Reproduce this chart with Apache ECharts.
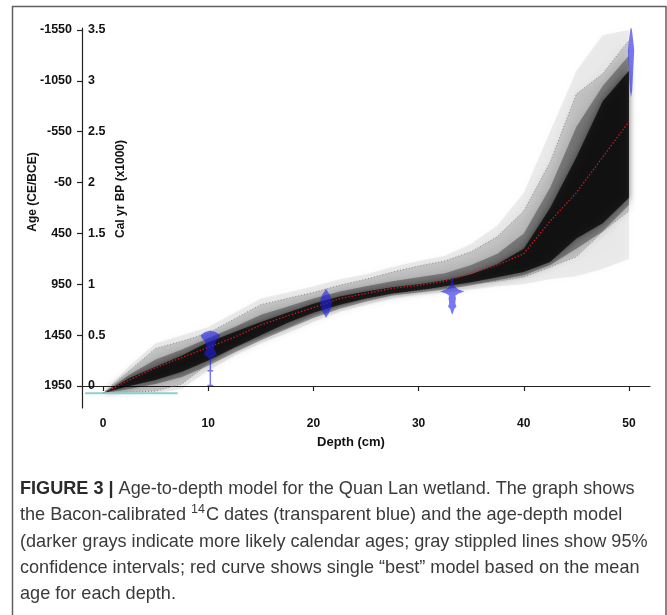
<!DOCTYPE html>
<html><head><meta charset="utf-8">
<script src="https://cdn.jsdelivr.net/npm/echarts@6/dist/echarts.min.js"></script>
<style>html,body{margin:0;padding:0;background:#fff}#c{width:667px;height:615px}</style>
</head><body><div id="c"></div>
<script>
// ---- tick labels ----
const depthTicks = [0, 10, 20, 30, 40, 50];
const bpTicks = [0, 0.5, 1, 1.5, 2, 2.5, 3, 3.5];   // cal yr BP (x1000)

// ---- age-depth model (ages in cal kyr BP) ----
const depths     = [0, 2.5, 5, 7.5, 10, 12.5, 15, 17.5, 20, 22.5, 25, 27.5, 30, 32.5, 35, 37.5, 40, 42.5, 45, 47.5, 50];
const ageMean    = [-0.07, 0.06, 0.18, 0.28, 0.38, 0.48, 0.60, 0.69, 0.77, 0.86, 0.91, 0.96, 0.99, 1.03, 1.11, 1.19, 1.30, 1.62, 1.90, 2.25, 2.60];
const ageUpper95 = [-0.07, 0.15, 0.37, 0.44, 0.52, 0.66, 0.80, 0.86, 0.92, 0.99, 1.05, 1.12, 1.18, 1.23, 1.32, 1.47, 1.72, 2.20, 2.87, 3.07, 3.40];
const ageLower95 = [-0.07, -0.06, -0.05, 0.02, 0.22, 0.37, 0.47, 0.57, 0.69, 0.78, 0.85, 0.90, 0.94, 0.96, 1.00, 1.03, 1.07, 1.17, 1.27, 1.52, 1.72];
const midLower   = [-0.07, -0.03, 0.02, 0.09, 0.20, 0.33, 0.45, 0.56, 0.67, 0.76, 0.83, 0.89, 0.92, 0.95, 0.99, 1.04, 1.09, 1.19, 1.35, 1.52, 1.78];
const midUpper   = [-0.07, 0.11, 0.26, 0.36, 0.47, 0.58, 0.70, 0.78, 0.86, 0.93, 0.98, 1.03, 1.07, 1.11, 1.19, 1.30, 1.50, 1.95, 2.55, 2.95, 3.25];
const coreLower  = [-0.07, 0.00, 0.06, 0.14, 0.25, 0.38, 0.50, 0.62, 0.72, 0.80, 0.86, 0.91, 0.94, 0.98, 1.02, 1.07, 1.12, 1.22, 1.45, 1.60, 1.85];
const coreUpper  = [-0.07, 0.08, 0.19, 0.30, 0.43, 0.53, 0.63, 0.72, 0.81, 0.88, 0.93, 0.97, 1.00, 1.04, 1.10, 1.20, 1.35, 1.75, 2.25, 2.80, 3.10];
const hazeLower  = [-0.07, -0.07, -0.07, -0.03, 0.15, 0.30, 0.42, 0.52, 0.63, 0.73, 0.80, 0.86, 0.90, 0.92, 0.95, 0.98, 1.00, 1.05, 1.08, 1.15, 1.25];
const hazeUpper  = [-0.07, 0.20, 0.42, 0.50, 0.58, 0.72, 0.86, 0.92, 0.98, 1.05, 1.10, 1.17, 1.23, 1.28, 1.40, 1.58, 1.90, 2.50, 3.10, 3.45, 3.50];

// ---- calibrated 14C dates (age profile, half-width in cm) ----
const dateDepths = [10.2, 21.2, 33.2, 50.2];
const date1Ages   = [0.545, 0.53, 0.50, 0.47, 0.44, 0.40, 0.36, 0.33, 0.31, 0.29, 0.27, 0.25, 0.16, 0.155, 0.145, 0.14, 0.015, 0.01, 0.0, 0.0];
const date1Widths = [0, 0.5, 0.95, 0.8, 0.5, 0.4, 0.35, 0.55, 0.6, 0.35, 0.1, 0.07, 0.07, 0.28, 0.28, 0.07, 0.07, 0.28, 0.28, 0];
const date2Ages   = [0.96, 0.93, 0.90, 0.86, 0.82, 0.78, 0.75, 0.72, 0.69, 0.67];
const date2Widths = [0, 0.15, 0.35, 0.5, 0.55, 0.5, 0.4, 0.3, 0.1, 0];
const date3Ages   = [1.07, 1.03, 0.98, 0.95, 0.93, 0.91, 0.89, 0.86, 0.83, 0.81, 0.78, 0.76, 0.72, 0.70];
const date3Widths = [0, 0.1, 0.2, 0.6, 1.15, 0.6, 0.3, 0.35, 0.3, 0.3, 0.4, 0.2, 0.08, 0];
const date4Ages   = [3.52, 3.50, 3.40, 3.30, 3.20, 3.10, 3.00, 2.90, 2.84];
const date4Widths = [0.03, 0.08, 0.2, 0.3, 0.25, 0.2, 0.15, 0.1, 0];

// ---- surface (core top) date ----
const surfaceAge = -0.07;
const surfaceDepths = [-1.7, 7.1];

const chart = echarts.init(document.getElementById('c'), null, {renderer: 'canvas'});

function bandPoints(lower, upper) {
  const pts = depths.map((d, i) => [d, upper[i]]);
  for (let i = depths.length - 1; i >= 0; i--) pts.push([depths[i], lower[i]]);
  return pts;
}
function datePoints(depth, ages, widths) {
  const pts = ages.map((a, i) => [depth + widths[i], a]);
  for (let i = ages.length - 1; i >= 0; i--) pts.push([depth - widths[i], ages[i]]);
  return pts;
}
function polySeries(pts, style, z) {
  return {
    type: 'custom', z: z, silent: true, data: [[0, 0]],
    renderItem: (params, api) => ({
      type: 'polygon',
      shape: {points: pts.map(p => api.coord(p))},
      style: style
    })
  };
}

const dateProfiles = [[date1Ages, date1Widths], [date2Ages, date2Widths], [date3Ages, date3Widths], [date4Ages, date4Widths]];
const blue = {fill: 'rgba(30,30,235,0.6)'};

const FONT = '"Liberation Sans", Arial, sans-serif';
const series = [
  polySeries(bandPoints(hazeLower, hazeUpper), {fill: 'rgba(0,0,0,0.07)', shadowBlur: 12, shadowColor: 'rgba(0,0,0,0.25)'}, 1),
  polySeries(bandPoints(ageLower95, ageUpper95), {fill: 'rgba(0,0,0,0.14)', shadowBlur: 10, shadowColor: 'rgba(0,0,0,0.3)'}, 2),
  polySeries(bandPoints(midLower, midUpper), {fill: 'rgba(0,0,0,0.32)', shadowBlur: 8, shadowColor: 'rgba(0,0,0,0.4)'}, 3),
  polySeries(bandPoints(coreLower, coreUpper), {fill: 'rgba(0,0,0,0.72)', shadowBlur: 6, shadowColor: 'rgba(0,0,0,0.6)'}, 4),
  {type: 'line', z: 5, silent: true, showSymbol: false, data: depths.map((d, i) => [d, ageUpper95[i]]),
   lineStyle: {color: '#8a8a8a', width: 1, type: [1, 2]}},
  {type: 'line', z: 5, silent: true, showSymbol: false, data: depths.map((d, i) => [d, ageLower95[i]]),
   lineStyle: {color: '#8a8a8a', width: 1, type: [1, 2]}},
  {type: 'line', z: 6, silent: true, showSymbol: false, data: depths.map((d, i) => [d, ageMean[i]]),
   lineStyle: {color: '#e31a1a', width: 1.3, type: [1.3, 2]}},
  {type: 'line', z: 6, silent: true, showSymbol: false, data: surfaceDepths.map(d => [d, surfaceAge]),
   lineStyle: {color: '#8fcfcf', width: 2}}
];
dateProfiles.forEach((p, k) => series.push(polySeries(datePoints(dateDepths[k], p[0], p[1]), blue, 7)));

const captionLines = [
  '{b|FIGURE 3 |} Age-to-depth model for the Quan Lan wetland. The graph shows',
  'the Bacon-calibrated {sup|14}C dates (transparent blue) and the age-depth model',
  '(darker grays indicate more likely calendar ages; gray stippled lines show 95%',
  'confidence intervals; red curve shows single \u201cbest\u201d model based on the mean',
  'age for each depth.'
];
const captionY = [489, 515, 542, 568, 594];
const CAP = 18.1;

const graphic = [
  {type: 'rect', shape: {x: 12.5, y: 6.5, width: 653.5, height: 700}, style: {fill: 'none', stroke: '#606060', lineWidth: 1.5}, silent: true},
  {type: 'text', x: 33, y: 192, rotation: Math.PI / 2, style: {text: 'Age (CE/BCE)', font: 'bold 12px ' + FONT, fill: '#111', align: 'center', verticalAlign: 'middle'}},
  {type: 'text', x: 121, y: 189, rotation: Math.PI / 2, style: {text: 'Cal yr BP (x1000)', font: 'bold 12px ' + FONT, fill: '#111', align: 'center', verticalAlign: 'middle'}},
  {type: 'text', x: 351, y: 442, style: {text: 'Depth (cm)', font: 'bold 13px ' + FONT, fill: '#111', align: 'center', verticalAlign: 'middle'}}
];
captionLines.forEach((t, i) => graphic.push({
  type: 'text', x: 20, y: captionY[i],
  style: {
    text: t, fontSize: CAP, fontFamily: FONT, fill: '#3a3a3a', align: 'left', verticalAlign: 'middle',
    rich: {
      b: {fontSize: CAP, fontFamily: FONT, fontWeight: 'bold', fill: '#2a2a2a'},
      sup: {fontSize: 12.5, fontFamily: FONT, fill: '#3a3a3a', verticalAlign: 'bottom', padding: [0, 1, 10, 0]}
    }
  }
}));

chart.setOption({
  animation: false,
  backgroundColor: '#fff',
  grid: {left: 82, right: 17, top: 28, bottom: 207, containLabel: false, outerBoundsMode: 'none'},
  xAxis: {
    type: 'value', min: -2, max: 52,
    axisLine: {show: true, lineStyle: {color: '#222', width: 1.2}},
    axisTick: {show: true, length: 5, customValues: depthTicks, lineStyle: {color: '#222', width: 1.2}},
    axisLabel: {customValues: depthTicks, fontFamily: FONT, fontWeight: 'bold', fontSize: 12, color: '#111', margin: 10},
    splitLine: {show: false}
  },
  yAxis: [
    {
      type: 'value', min: -0.216, max: 3.52, position: 'left',
      axisLine: {show: true, onZero: false, lineStyle: {color: '#222', width: 1.2}},
      axisTick: {show: true, length: 5, customValues: bpTicks, lineStyle: {color: '#222', width: 1.2}},
      axisLabel: {customValues: bpTicks, fontFamily: FONT, fontWeight: 'bold', fontSize: 12.5, color: '#111', margin: 10,
        formatter: v => String(Math.round(1950 - v * 1000))},
      splitLine: {show: false}
    },
    {
      type: 'value', min: -0.216, max: 3.52, position: 'left',
      axisLine: {show: false}, axisTick: {show: false},
      axisLabel: {inside: true, customValues: bpTicks, fontFamily: FONT, fontWeight: 'bold', fontSize: 12.5, color: '#111', margin: 6,
        formatter: v => String(v)},
      splitLine: {show: false}
    }
  ],
  series: series,
  graphic: graphic
});
</script></body></html>
